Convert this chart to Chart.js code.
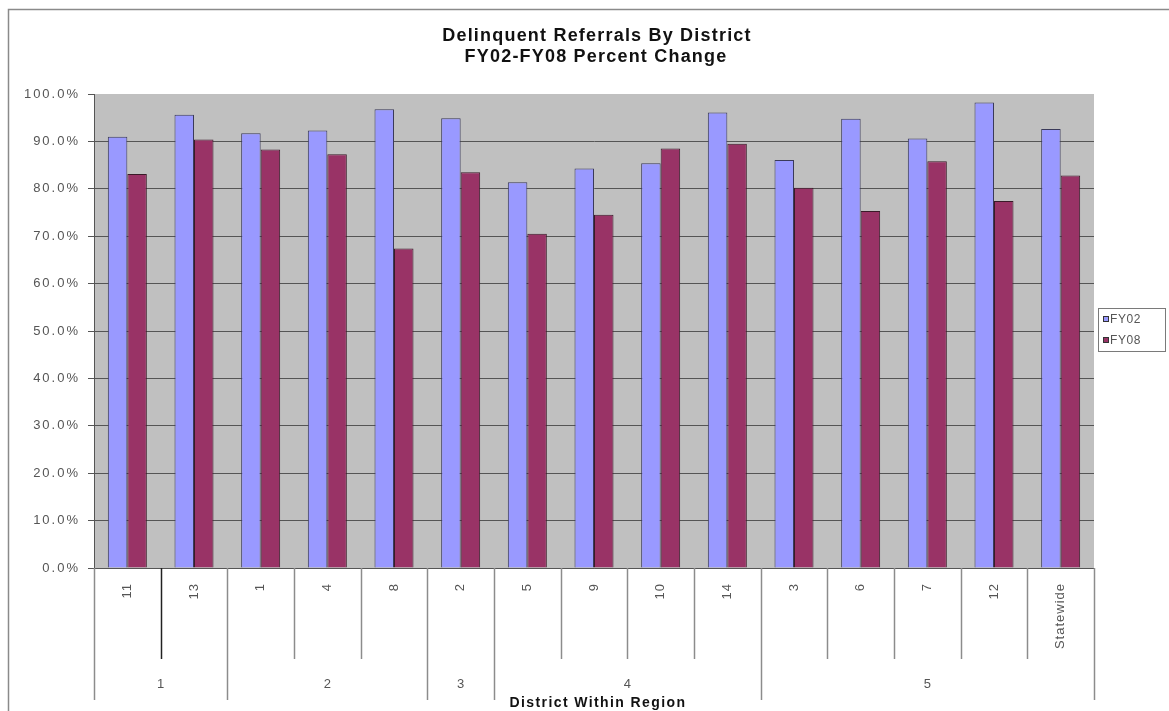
<!DOCTYPE html>
<html lang="en">
<head>
  <meta charset="UTF-8">
  <title>Delinquent Referrals By District</title>
  <script src="https://cdn.jsdelivr.net/npm/chart.js"></script>
  <style>
    body { margin: 0; background: #fff; }
    #wrap { width: 1169px; height: 711px; }
  </style>
</head>
<body>
  <div id="wrap"><canvas id="chart" width="1169" height="711"></canvas></div>

  <script>
// Districts (bottom row labels) and the region each group belongs to
const districts = ['11', '13', '1', '4', '8', '2', '5', '9', '10', '14', '3', '6', '7', '12', 'Statewide'];
const regions = ['1', '2', '3', '4', '5'];
const regionSizes = [2, 3, 1, 4, 5];

// Percent values
const fy02 = [91.0, 95.6, 91.7, 92.3, 96.8, 94.9, 81.4, 84.3, 85.4, 96.1, 86.1, 94.8, 90.6, 98.2, 92.6];
const fy08 = [83.1, 90.4, 88.3, 87.3, 67.4, 83.5, 70.5, 74.5, 88.5, 89.5, 80.2, 75.3, 85.8, 77.4, 82.8];

const titleLines = ['Delinquent Referrals By District', 'FY02-FY08 Percent Change'];
const axisTitle = 'District Within Region';

const FONT = 'Arial, "Liberation Sans", sans-serif';

// gray plot area, outer frame, titles
const backdrop = {
  id: 'backdrop',
  beforeDraw(chart) {
    const { ctx, chartArea: a } = chart;
    ctx.save();
    ctx.fillStyle = '#c0c0c0';
    ctx.fillRect(a.left, a.top, a.width, a.height);
    ctx.strokeStyle = '#8a8a8a';
    ctx.lineWidth = 1.5;
    ctx.strokeRect(8.5, 9.5, 1180, 720);
    ctx.fillStyle = '#111';
    ctx.font = 'bold 18px ' + FONT;
    ctx.letterSpacing = '1.2px';
    ctx.textAlign = 'center';
    ctx.textBaseline = 'middle';
    ctx.fillText(titleLines[0], 597, 36);
    ctx.fillText(titleLines[1], 596, 57);
    ctx.restore();
    // wide spacing for the y tick labels drawn next by the scale
    ctx.letterSpacing = '2px';
  }
};

// two-level category axis and the boxed legend
const categoryAxis = {
  id: 'categoryAxis',
  beforeDatasetsDraw(chart) {
    chart.ctx.letterSpacing = '0px';
  },
  afterDraw(chart) {
    const { ctx, chartArea: a } = chart;
    const x = chart.scales.x;
    const step = x.getPixelForValue(1) - x.getPixelForValue(0);
    const edge = i => x.getPixelForValue(i) - step / 2;

    // region boundaries
    const regionEdges = [0];
    regionSizes.forEach(n => regionEdges.push(regionEdges[regionEdges.length - 1] + n));

    ctx.save();
    ctx.lineWidth = 1.5;
    for (let i = 0; i <= districts.length; i++) {
      const px = Math.round(edge(i)) + 0.5;
      const long = regionEdges.includes(i);
      ctx.strokeStyle = i === 1 ? '#222' : '#8c8c8c';
      ctx.beginPath();
      ctx.moveTo(px, a.bottom);
      ctx.lineTo(px, long ? 700 : 659);
      ctx.stroke();
    }

    // rotated district labels
    ctx.fillStyle = '#555';
    ctx.font = '13px ' + FONT;
    ctx.letterSpacing = '1px';
    ctx.textAlign = 'left';
    ctx.textBaseline = 'middle';
    districts.forEach((d, i) => {
      ctx.save();
      ctx.translate(x.getPixelForValue(i), a.bottom + 15);
      ctx.rotate(-Math.PI / 2);
      const w = ctx.measureText(d).width;
      ctx.fillText(d, -w, 0);
      ctx.restore();
    });

    // region labels
    ctx.font = '13px ' + FONT;
    ctx.letterSpacing = '0px';
    ctx.textAlign = 'center';
    regions.forEach((r, k) => {
      const cx = (edge(regionEdges[k]) + edge(regionEdges[k + 1])) / 2;
      ctx.fillText(r, cx, 684);
    });

    ctx.fillStyle = '#111';
    ctx.font = 'bold 14px ' + FONT;
    ctx.letterSpacing = '1.4px';
    ctx.fillText(axisTitle, 598, 703);

    // legend
    ctx.strokeStyle = '#7a7a7a';
    ctx.lineWidth = 1;
    ctx.strokeRect(1098.5, 308.5, 67, 43);
    ctx.font = '12px ' + FONT;
    ctx.letterSpacing = '0.6px';
    ctx.textAlign = 'left';
    chart.data.datasets.forEach((ds, k) => {
      const y = 319 + k * 21;
      ctx.fillStyle = ds.backgroundColor;
      ctx.fillRect(1103, y - 3, 6, 6);
      ctx.strokeStyle = '#333';
      ctx.strokeRect(1103.5, y - 2.5, 5, 5);
      ctx.fillStyle = '#555';
      ctx.fillText(ds.label, 1110, y + 1);
    });
    ctx.restore();
  }
};

new Chart(document.getElementById('chart'), {
  type: 'bar',
  data: {
    labels: districts,
    datasets: [
      { label: 'FY02', data: fy02, backgroundColor: '#9999ff', borderColor: '#3a3a5a', borderWidth: 1 },
      { label: 'FY08', data: fy08, backgroundColor: '#993366', borderColor: '#3a1a28', borderWidth: 1 }
    ]
  },
  options: {
    responsive: false,
    animation: false,
    layout: { padding: { top: 94, right: 75, bottom: 0, left: 0 } },
    datasets: { bar: { categoryPercentage: 0.585, barPercentage: 1 } },
    plugins: {
      legend: { display: false },
      title: { display: false },
      tooltip: { enabled: false }
    },
    scales: {
      x: {
        grid: { display: false },
        border: { display: true, color: '#555', width: 1 },
        ticks: { display: false },
        afterFit: s => { s.height = 143; }
      },
      y: {
        min: 0,
        max: 100,
        ticks: {
          stepSize: 10,
          color: '#555',
          padding: 8,
          font: { family: FONT, size: 13 },
          callback: v => v.toFixed(1) + '%'
        },
        grid: {
          color: ctx => ctx.tick && ctx.tick.value === 100 ? 'rgba(0,0,0,0)' : '#555',
          tickColor: '#555',
          tickLength: 6
        },
        border: { display: true, color: '#555', width: 1 },
        afterFit: s => { s.width = 94; }
      }
    }
  },
  plugins: [backdrop, categoryAxis]
});
  </script>
</body>
</html>
